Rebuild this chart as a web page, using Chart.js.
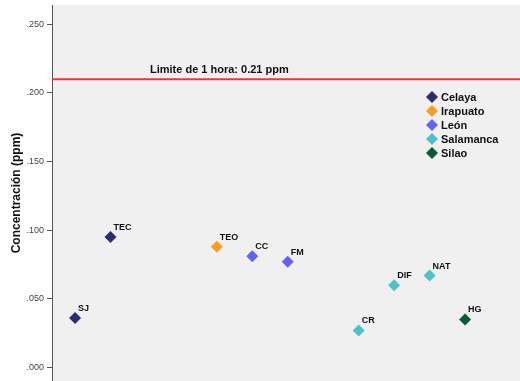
<!DOCTYPE html>
<html>
<head>
<meta charset="utf-8">
<script src="https://cdn.jsdelivr.net/npm/chart.js@4.4.1/dist/chart.umd.min.js"></script>
<style>
  html, body { margin: 0; padding: 0; background: #fff; }
  #wrap { width: 520px; height: 381px; }
</style>
</head>
<body>
<div id="wrap"><canvas id="chart"></canvas></div>
<script>
// stations, their slot on the (hidden) x axis, and measured concentration
const stations = ['SJ', 'TEC', 'TEO', 'CC', 'FM', 'CR', 'DIF', 'NAT', 'HG'];
const slots = [0, 1, 4, 5, 6, 8, 9, 10, 11];
const concentrations = [0.036, 0.095, 0.088, 0.081, 0.077, 0.027, 0.060, 0.067, 0.035];
const stationCity = ['Celaya', 'Celaya', 'Irapuato', 'León', 'León', 'Salamanca', 'Salamanca', 'Salamanca', 'Silao'];

const cities = ['Celaya', 'Irapuato', 'León', 'Salamanca', 'Silao'];
const cityColors = ['#2b2d74', '#f99b25', '#6262fb', '#4bc4c8', '#0d5a30'];

const yTicks = [0, 0.05, 0.10, 0.15, 0.20, 0.25];
const limitValue = 0.21;
const limitLabel = 'Limite de 1 hora: 0.21 ppm';

const FONT = 'Arial, "Liberation Sans", sans-serif';

// one dataset per city
const datasets = cities.map((city, i) => ({
  label: city,
  data: stations
    .map((s, k) => ({ x: slots[k], y: concentrations[k], name: s, city: stationCity[k] }))
    .filter(p => p.city === city),
  pointStyle: 'rectRot',
  pointRadius: 6,
  pointHoverRadius: 6,
  backgroundColor: cityColors[i],
  borderColor: cityColors[i],
  borderWidth: 0,
  showLine: false
}));

const plotBg = {
  id: 'plotBg',
  beforeDraw(chart) {
    const { ctx, chartArea: a } = chart;
    ctx.save();
    ctx.fillStyle = '#f0f0f0';
    ctx.fillRect(a.left, a.top, a.right - a.left, a.bottom - a.top);
    ctx.restore();
  }
};

const limitLine = {
  id: 'limitLine',
  afterDatasetsDraw(chart) {
    const { ctx, chartArea: a, scales } = chart;
    const y = scales.y.getPixelForValue(limitValue);
    ctx.save();
    ctx.strokeStyle = '#e8383d';
    ctx.lineWidth = 2;
    ctx.beginPath();
    ctx.moveTo(a.left, y);
    ctx.lineTo(a.right, y);
    ctx.stroke();
    ctx.fillStyle = '#111';
    ctx.font = 'bold 11px ' + FONT;
    ctx.textBaseline = 'alphabetic';
    ctx.fillText(limitLabel, 150, y - 6);
    ctx.restore();
  }
};

const pointLabels = {
  id: 'pointLabels',
  afterDatasetsDraw(chart) {
    const { ctx } = chart;
    ctx.save();
    ctx.fillStyle = '#111';
    ctx.font = 'bold 9px ' + FONT;
    ctx.textBaseline = 'alphabetic';
    chart.data.datasets.forEach((ds, i) => {
      chart.getDatasetMeta(i).data.forEach((pt, j) => {
        ctx.fillText(ds.data[j].name, pt.x + 3, pt.y - 7);
      });
    });
    ctx.restore();
  }
};

// legend drawn inside the plot, like the original
const innerLegend = {
  id: 'innerLegend',
  afterDraw(chart) {
    const { ctx } = chart;
    ctx.save();
    ctx.font = 'bold 11px ' + FONT;
    ctx.textBaseline = 'middle';
    chart.data.datasets.forEach((ds, i) => {
      const cx = 432, cy = 97 + i * 14;
      ctx.fillStyle = ds.backgroundColor;
      ctx.beginPath();
      ctx.moveTo(cx, cy - 6);
      ctx.lineTo(cx + 6, cy);
      ctx.lineTo(cx, cy + 6);
      ctx.lineTo(cx - 6, cy);
      ctx.closePath();
      ctx.fill();
      ctx.fillStyle = '#111';
      ctx.fillText(ds.label, 441, cy + 1);
    });
    ctx.restore();
  }
};

new Chart(document.getElementById('chart'), {
  type: 'scatter',
  data: { datasets },
  options: {
    responsive: true,
    maintainAspectRatio: false,
    animation: false,
    layout: { autoPadding: false, padding: { top: 5, left: 0, right: 0, bottom: 0 } },
    plugins: {
      legend: { display: false },
      tooltip: { enabled: false }
    },
    scales: {
      x: {
        type: 'linear',
        display: false,
        min: -0.65,
        max: 12.55
      },
      y: {
        min: -0.0098,
        max: 0.264,
        afterBuildTicks(scale) {
          scale.ticks = yTicks.map(v => ({ value: v }));
        },
        afterFit(scale) {
          scale.width = 52;
          scale.paddingTop = 0;
          scale.paddingBottom = 0;
        },
        grid: {
          drawOnChartArea: false,
          drawTicks: true,
          tickLength: 5,
          color: '#555'
        },
        border: { display: true, color: '#555', width: 1 },
        ticks: {
          padding: 3,
          color: '#444',
          font: { family: FONT, size: 9 },
          callback: v => v.toFixed(3).replace(/^0/, '')
        },
        title: {
          display: true,
          text: 'Concentración (ppm)',
          color: '#111',
          font: { family: FONT, size: 12, weight: 'bold' },
          padding: { top: 9, bottom: 0 }
        }
      }
    }
  },
  plugins: [plotBg, limitLine, pointLabels, innerLegend]
});
</script>
</body>
</html>
